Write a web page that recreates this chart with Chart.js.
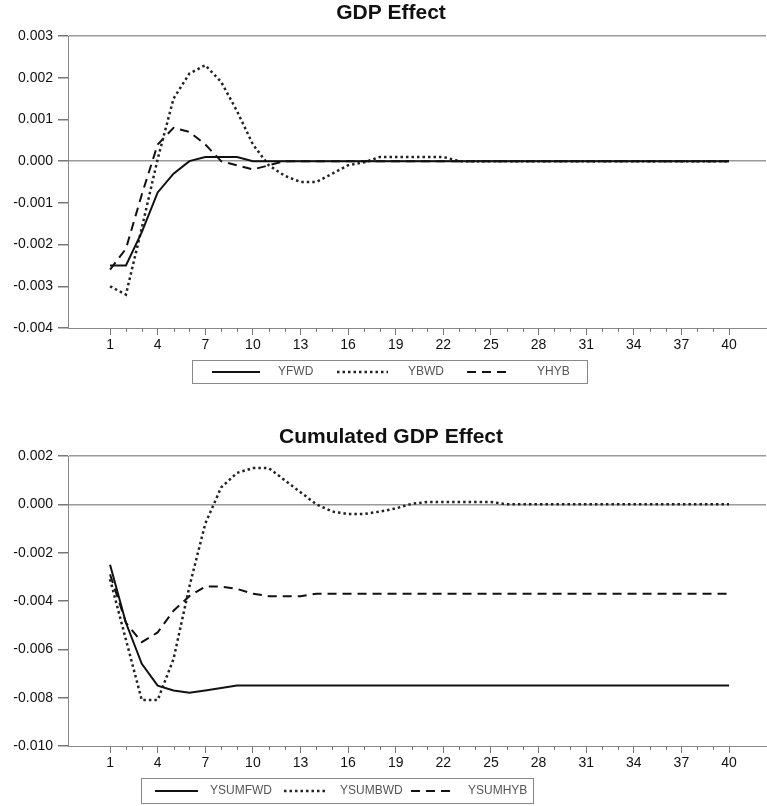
<!DOCTYPE html>
<html>
<head>
<meta charset="utf-8">
<script src="https://cdn.jsdelivr.net/npm/chart.js@4.4.0/dist/chart.umd.min.js"></script>
<style>
html, body { margin: 0; padding: 0; background: #fff; }
#wrap { position: relative; width: 767px; height: 806px; }
canvas { position: absolute; left: 0; }
</style>
</head>
<body>
<div id="wrap">
  <canvas id="gdpChart" width="767" height="390" style="top:0"></canvas>
  <canvas id="cumChart" width="767" height="416" style="top:390px"></canvas>
</div>
<script>
// periods 1..40
const periods = [1, 2, 3, 4, 5, 6, 7, 8, 9, 10, 11, 12, 13, 14, 15, 16, 17, 18, 19, 20,
                 21, 22, 23, 24, 25, 26, 27, 28, 29, 30, 31, 32, 33, 34, 35, 36, 37, 38, 39, 40];

// GDP effect
const yfwd = [-0.0025, -0.0025, -0.0017, -0.00075, -0.0003, 0.0, 0.0001, 0.0001, 0.0001, 0.0,
              0, 0, 0, 0, 0, 0, 0, 0, 0, 0,
              0, 0, 0, 0, 0, 0, 0, 0, 0, 0,
              0, 0, 0, 0, 0, 0, 0, 0, 0, 0];
const ybwd = [-0.0030, -0.0032, -0.0016, 0.00005, 0.0015, 0.0021, 0.0023, 0.0019, 0.0012, 0.0004,
              -0.0001, -0.00035, -0.0005, -0.0005, -0.0003, -0.0001, -0.00003, 0.0001, 0.0001, 0.0001,
              0.0001, 0.0001, 0.0, 0, 0, 0, 0, 0, 0, 0,
              0, 0, 0, 0, 0, 0, 0, 0, 0, 0];
const yhyb = [-0.0026, -0.0021, -0.0008, 0.0004, 0.0008, 0.0007, 0.0004, 0.0, -0.0001, -0.0002,
              -0.0001, 0.0, 0, 0, 0, 0, 0, 0, 0, 0,
              0, 0, 0, 0, 0, 0, 0, 0, 0, 0,
              0, 0, 0, 0, 0, 0, 0, 0, 0, 0];

// cumulated GDP effect
const ysumfwd = [-0.0025, -0.0049, -0.0066, -0.0075, -0.0077, -0.0078, -0.0077, -0.0076, -0.0075, -0.0075,
                 -0.0075, -0.0075, -0.0075, -0.0075, -0.0075, -0.0075, -0.0075, -0.0075, -0.0075, -0.0075,
                 -0.0075, -0.0075, -0.0075, -0.0075, -0.0075, -0.0075, -0.0075, -0.0075, -0.0075, -0.0075,
                 -0.0075, -0.0075, -0.0075, -0.0075, -0.0075, -0.0075, -0.0075, -0.0075, -0.0075, -0.0075];
const ysumbwd = [-0.0031, -0.0056, -0.0081, -0.0081, -0.0064, -0.0034, -0.0008, 0.0007, 0.0013, 0.0015,
                 0.0015, 0.0010, 0.0005, 0.0, -0.0003, -0.0004, -0.0004, -0.0003, -0.00017, 0.00002,
                 0.0001, 0.0001, 0.0001, 0.0001, 0.0001, 0.0, 0, 0, 0, 0,
                 0, 0, 0, 0, 0, 0, 0, 0, 0, 0];
const ysumhyb = [-0.0029, -0.0049, -0.0057, -0.0053, -0.0044, -0.0038, -0.0034, -0.0034, -0.0035, -0.0037,
                 -0.0038, -0.0038, -0.0038, -0.0037, -0.0037, -0.0037, -0.0037, -0.0037, -0.0037, -0.0037,
                 -0.0037, -0.0037, -0.0037, -0.0037, -0.0037, -0.0037, -0.0037, -0.0037, -0.0037, -0.0037,
                 -0.0037, -0.0037, -0.0037, -0.0037, -0.0037, -0.0037, -0.0037, -0.0037, -0.0037, -0.0037];

const FONT = '"Liberation Sans", Arial, sans-serif';

// line styles: solid / dotted / dashed
const solid = { borderColor: '#111', borderWidth: 2, borderDash: [] };
const dotted = { borderColor: '#222', borderWidth: 2.5, borderDash: [2.5, 3] };
const dashed = { borderColor: '#111', borderWidth: 2, borderDash: [9, 6] };

function series(label, values, style) {
    return Object.assign({
        label: label,
        data: periods.map((p, i) => ({ x: p, y: values[i] })),
        pointRadius: 0,
        tension: 0,
        fill: false
    }, style);
}

// title + boxed legend drawn on the canvas
const boxLegend = {
    id: 'boxLegend',
    afterDraw(chart, args, opts) {
        const ctx = chart.ctx;
        ctx.save();
        ctx.fillStyle = '#111';
        ctx.font = 'bold 21px ' + FONT;
        ctx.textAlign = 'center';
        ctx.textBaseline = 'middle';
        ctx.fillText(opts.title, opts.titleX, opts.titleY);

        ctx.strokeStyle = '#888';
        ctx.lineWidth = 1;
        ctx.strokeRect(opts.box[0] + 0.5, opts.box[1] + 0.5, opts.box[2], opts.box[3]);
        const midY = opts.box[1] + opts.box[3] / 2 + 0.5;
        ctx.textAlign = 'left';
        ctx.font = '12px ' + FONT;
        chart.data.datasets.forEach((ds, i) => {
            const it = opts.items[i];
            ctx.beginPath();
            ctx.setLineDash(ds.borderDash || []);
            ctx.lineWidth = ds.borderWidth;
            ctx.strokeStyle = ds.borderColor;
            ctx.moveTo(it[0], midY);
            ctx.lineTo(it[1], midY);
            ctx.stroke();
            ctx.setLineDash([]);
            ctx.fillStyle = '#555';
            ctx.fillText(ds.label, it[2], midY);
        });
        ctx.restore();
    }
};

// short minor ticks on the x axis
const minorTicks = {
    id: 'minorTicks',
    afterDraw(chart) {
        const s = chart.scales.x;
        const ctx = chart.ctx;
        ctx.save();
        ctx.strokeStyle = '#777';
        ctx.lineWidth = 1;
        s.ticks.forEach(t => {
            if ((t.value - 1) % 3 !== 0) {
                const px = Math.round(s.getPixelForValue(t.value)) + 0.5;
                ctx.beginPath();
                ctx.moveTo(px, s.top);
                ctx.lineTo(px, s.top + 4);
                ctx.stroke();
            }
        });
        ctx.restore();
    }
};

function makeChart(id, datasets, yMin, yMax, yStep, xHeight, legendOpts) {
    return new Chart(document.getElementById(id).getContext('2d'), {
        type: 'line',
        data: { datasets: datasets },
        plugins: [boxLegend, minorTicks],
        options: {
            responsive: false,
            animation: false,
            devicePixelRatio: 1,
            layout: { padding: { top: legendOpts.plotTop, left: 0, right: 1, bottom: 0 } },
            plugins: {
                legend: { display: false },
                tooltip: { enabled: false },
                boxLegend: legendOpts
            },
            scales: {
                x: {
                    type: 'linear',
                    min: -1.65,
                    max: 42.33,
                    afterBuildTicks: s => { s.ticks = periods.map(v => ({ value: v })); },
                    afterFit: s => { s.height = xHeight; },
                    ticks: {
                        autoSkip: false,
                        maxRotation: 0,
                        padding: 2,
                        color: '#111',
                        font: { family: FONT, size: 14 },
                        callback: v => ((v - 1) % 3 === 0 ? String(v) : '')
                    },
                    grid: {
                        drawOnChartArea: false,
                        tickLength: 7,
                        tickColor: c => (c.tick && (c.tick.value - 1) % 3 === 0 ? '#777' : 'rgba(0,0,0,0)')
                    },
                    border: { color: '#888', width: 1 }
                },
                y: {
                    min: yMin,
                    max: yMax,
                    afterFit: s => { s.width = 68; },
                    ticks: {
                        stepSize: yStep,
                        padding: 5,
                        color: '#111',
                        font: { family: FONT, size: 14 },
                        callback: v => (Math.abs(v) < 1e-9 ? '0.000' : v.toFixed(3))
                    },
                    grid: {
                        tickLength: 10,
                        tickColor: '#777',
                        lineWidth: 1.5,
                        color: c => {
                            if (!c.tick) return 'rgba(0,0,0,0)';
                            const top = c.index === c.scale.ticks.length - 1;
                            return (Math.abs(c.tick.value) < 1e-9 || top) ? '#9a9a9a' : 'rgba(0,0,0,0)';
                        }
                    },
                    border: { color: '#888', width: 1 }
                }
            }
        }
    });
}

makeChart('gdpChart', [
    series('YFWD', yfwd, solid),
    series('YBWD', ybwd, dotted),
    series('YHYB', yhyb, dashed)
], -0.004, 0.003, 0.001, 62, {
    plotTop: 36,
    title: 'GDP Effect', titleX: 391, titleY: 13,
    box: [192, 360, 395, 23],
    items: [[212, 260, 278], [337, 388, 408], [467, 512, 537]]
});

makeChart('cumChart', [
    series('YSUMFWD', ysumfwd, solid),
    series('YSUMBWD', ysumbwd, dotted),
    series('YSUMHYB', ysumhyb, dashed)
], -0.010, 0.002, 0.002, 60, {
    plotTop: 66,
    title: 'Cumulated GDP Effect', titleX: 391, titleY: 47,
    box: [141, 388, 392, 25],
    items: [[155, 198, 210], [284, 325, 340], [411, 451, 468]]
});
</script>
</body>
</html>
